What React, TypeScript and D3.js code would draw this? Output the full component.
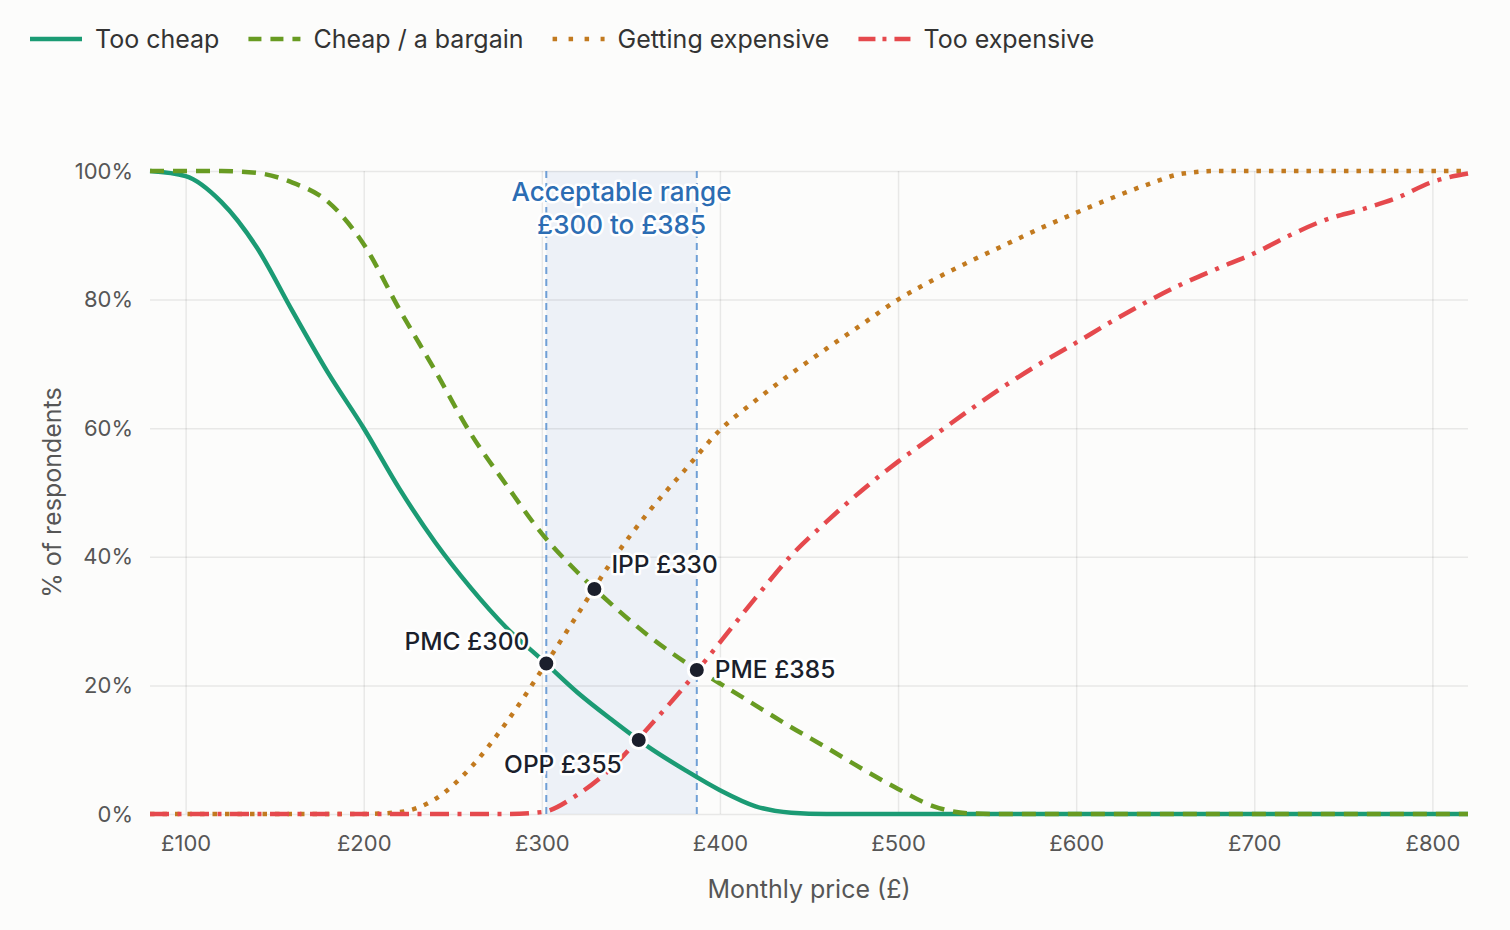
import React, { useEffect, useRef } from "react";
import * as d3 from "d3";

// Price grid (£ per month) and the share of respondents for each question
const prices = [
  80, 100, 120, 140, 160, 180, 200, 220, 240, 260, 280, 300, 320, 340, 360, 380, 400, 420, 440,
  460, 480, 500, 520, 540, 560, 580, 600, 620, 640, 660, 680, 700, 720, 740, 760, 780, 800, 820,
];

const tooCheap = [
  100, 99.2, 95.2, 88.1, 78.2, 68.6, 60, 50.6, 42.3, 35.2, 29.0, 24.0, 18.9, 14.5, 10.4, 6.9, 3.7,
  1.2, 0.2, 0, 0, 0, 0, 0, 0, 0, 0, 0, 0, 0, 0, 0, 0, 0, 0, 0, 0, 0,
];

const cheapBargain = [
  100, 100, 100, 99.7, 98.2, 95.2, 88.6, 78.5, 69, 59.2, 51.2, 43.6, 37.6, 32.4, 27.7, 23.7, 20.3,
  16.9, 13.5, 10.3, 7.0, 3.9, 1.2, 0.1, 0, 0, 0, 0, 0, 0, 0, 0, 0, 0, 0, 0, 0, 0,
];

const gettingExpensive = [
  0, 0, 0, 0, 0, 0, 0, 0.3, 2.3, 7.2, 14.2, 22.4, 31.0, 39.6, 47.0, 53.4, 59.7, 64.3, 68.5, 72.4,
  76.2, 80.0, 83.1, 85.9, 88.5, 91.1, 93.5, 95.8, 97.9, 99.6, 100, 100, 100, 100, 100, 100, 100, 100,
];

const tooExpensive = [
  0, 0, 0, 0, 0, 0, 0, 0, 0, 0, 0, 0.3, 3.0, 7.4, 13.5, 19.8, 26.7, 33.6, 40.2, 45.5, 50.4, 54.8,
  58.8, 62.8, 66.6, 70.1, 73.3, 76.6, 79.7, 82.5, 84.9, 87.2, 90.0, 92.4, 94.0, 95.8, 98.3, 99.6,
];

const seriesNames = ["Too cheap", "Cheap / a bargain", "Getting expensive", "Too expensive"];
const seriesValues = [tooCheap, cheapBargain, gettingExpensive, tooExpensive];

const priceTicks = [100, 200, 300, 400, 500, 600, 700, 800];
const percentTicks = [0, 20, 40, 60, 80, 100];

// Intersection points
const pointLabels = ["PMC £300", "IPP £330", "OPP £355", "PME £385"];
const pointPrices = [302.5, 329.5, 354.4, 387];
const pointValues = [23.4, 35.0, 11.5, 22.4];

const rangeLow = 302.5;
const rangeHigh = 387;
const rangeTitle = ["Acceptable range", "£300 to £385"];

const xTitle = "Monthly price (£)";
const yTitle = "% of respondents";

// Styling only
const seriesStyles = [
  { color: "#1b9b74", dash: null, legendDash: null },
  { color: "#689b22", dash: "14 9", legendDash: "13 9" },
  { color: "#c27a1f", dash: "4.5 8", legendDash: "4.5 11.5" },
  { color: "#e5494d", dash: "19 8.5 4 8.5", legendDash: "17 7 4 8" },
];
const labelOffsets: [number, number, string][] = [
  [-17, -14, "end"],
  [17, -16, "start"],
  [-17, 33, "end"],
  [18, 8, "start"],
];

const FONT = "Inter, 'Noto Sans', sans-serif";

const App: React.FC = () => {
  const svgRef = useRef<SVGSVGElement>(null);

  useEffect(() => {
    if (!svgRef.current) return;
    document.body.style.margin = "0";
    document.body.style.background = "#fcfcfb";

    d3.select(svgRef.current).selectAll("*").remove();

    const width = 1510;
    const height = 930;
    const margin = { top: 171, right: 42, bottom: 116, left: 150 };
    const innerW = width - margin.left - margin.right;
    const innerH = height - margin.top - margin.bottom;

    const root = d3.select(svgRef.current);
    root.append("rect").attr("width", width).attr("height", height).attr("fill", "#fcfcfb");

    const svg = root.append("g").attr("transform", `translate(${margin.left},${margin.top})`);

    const x = d3.scaleLinear().domain([80, 820]).range([0, innerW]);
    const y = d3.scaleLinear().domain([0, 100]).range([innerH, 0]);

    // Acceptable range band
    svg.append("rect")
      .attr("x", x(rangeLow))
      .attr("y", 0)
      .attr("width", x(rangeHigh) - x(rangeLow))
      .attr("height", innerH)
      .attr("fill", "#edf1f7");

    // Grid
    const xGrid = svg.append("g")
      .attr("transform", `translate(0,${innerH})`)
      .call(d3.axisBottom(x).tickValues(priceTicks).tickSize(-innerH).tickFormat(() => ""));
    xGrid.select(".domain").remove();
    xGrid.selectAll("line").attr("stroke", "#000").attr("stroke-opacity", 0.08).attr("stroke-width", 1.5);

    const yGrid = svg.append("g")
      .call(d3.axisLeft(y).tickValues(percentTicks).tickSize(-innerW).tickFormat(() => ""));
    yGrid.select(".domain").remove();
    yGrid.selectAll("line").attr("stroke", "#000").attr("stroke-opacity", 0.08).attr("stroke-width", 1.5);

    // Band borders
    [rangeLow, rangeHigh].forEach(v => {
      svg.append("line")
        .attr("x1", x(v)).attr("x2", x(v))
        .attr("y1", 0).attr("y2", innerH)
        .attr("stroke", "#6f9fd6")
        .attr("stroke-width", 2)
        .attr("stroke-dasharray", "7 5");
    });

    // Axes labels
    const xAxis = svg.append("g")
      .attr("transform", `translate(0,${innerH})`)
      .call(d3.axisBottom(x).tickValues(priceTicks).tickSize(0).tickPadding(21).tickFormat(d => `£${d}`));
    xAxis.select(".domain").remove();
    xAxis.selectAll("text").attr("font-family", FONT).attr("font-size", 22).attr("fill", "#565656");

    const yAxis = svg.append("g")
      .call(d3.axisLeft(y).tickValues(percentTicks).tickSize(0).tickPadding(17).tickFormat(d => `${d}%`));
    yAxis.select(".domain").remove();
    yAxis.selectAll("text").attr("font-family", FONT).attr("font-size", 22).attr("fill", "#565656");

    svg.append("text")
      .attr("x", innerW / 2)
      .attr("y", innerH + 84)
      .attr("text-anchor", "middle")
      .attr("font-family", FONT)
      .attr("font-size", 25)
      .attr("fill", "#565656")
      .text(xTitle);

    svg.append("text")
      .attr("transform", `translate(${-89},${innerH / 2}) rotate(-90)`)
      .attr("text-anchor", "middle")
      .attr("font-family", FONT)
      .attr("font-size", 25)
      .attr("fill", "#565656")
      .text(yTitle);

    // Lines
    const line = d3.line<number>()
      .x((_, i) => x(prices[i]))
      .y(d => y(d))
      .curve(d3.curveMonotoneX);

    seriesValues.forEach((vals, k) => {
      const st = seriesStyles[k];
      svg.append("path")
        .datum(vals)
        .attr("fill", "none")
        .attr("stroke", st.color)
        .attr("stroke-width", 4.5)
        .attr("stroke-dasharray", st.dash)
        .attr("d", line);
    });

    // Range title
    const halo = (sel: d3.Selection<SVGTextElement, unknown, null, undefined>) =>
      sel.attr("stroke", "#ffffff")
        .attr("stroke-width", 5)
        .attr("stroke-linejoin", "round")
        .attr("paint-order", "stroke");

    rangeTitle.forEach((t, i) => {
      svg.append("text")
        .attr("x", (x(rangeLow) + x(rangeHigh)) / 2)
        .attr("y", 30 + i * 33)
        .attr("text-anchor", "middle")
        .attr("font-family", FONT)
        .attr("font-size", 26)
        .attr("font-weight", 500)
        .attr("fill", "#2c6db3")
        .call(halo)
        .text(t);
    });

    // Points
    pointLabels.forEach((label, i) => {
      const px = x(pointPrices[i]);
      const py = y(pointValues[i]);
      const [dx, dy, anchor] = labelOffsets[i];
      svg.append("text")
        .attr("x", px + dx)
        .attr("y", py + dy)
        .attr("text-anchor", anchor)
        .attr("font-family", FONT)
        .attr("font-size", 24.5)
        .attr("font-weight", 500)
        .attr("fill", "#1b1f2c")
        .call(halo)
        .text(label);
      svg.append("circle")
        .attr("cx", px)
        .attr("cy", py)
        .attr("r", 8.5)
        .attr("fill", "#1b1f2c")
        .attr("stroke", "#ffffff")
        .attr("stroke-width", 3);
    });

    // Legend
    const legend = root.append("g").attr("transform", "translate(30,39)");
    let lx = 0;
    seriesNames.forEach((name, k) => {
      const st = seriesStyles[k];
      legend.append("line")
        .attr("x1", lx).attr("x2", lx + 52)
        .attr("y1", 0).attr("y2", 0)
        .attr("stroke", st.color)
        .attr("stroke-width", 4.5)
        .attr("stroke-dasharray", st.legendDash);
      const t = legend.append("text")
        .attr("x", lx + 65)
        .attr("y", 0)
        .attr("dy", "0.35em")
        .attr("font-family", FONT)
        .attr("font-size", 25)
        .attr("fill", "#333333")
        .text(name);
      const w = (t.node() as SVGTextElement).getComputedTextLength();
      lx += 65 + w + 29;
    });
  }, []);

  return <svg ref={svgRef} width={1510} height={930} style={{ display: "block" }} />;
};

export default App;
